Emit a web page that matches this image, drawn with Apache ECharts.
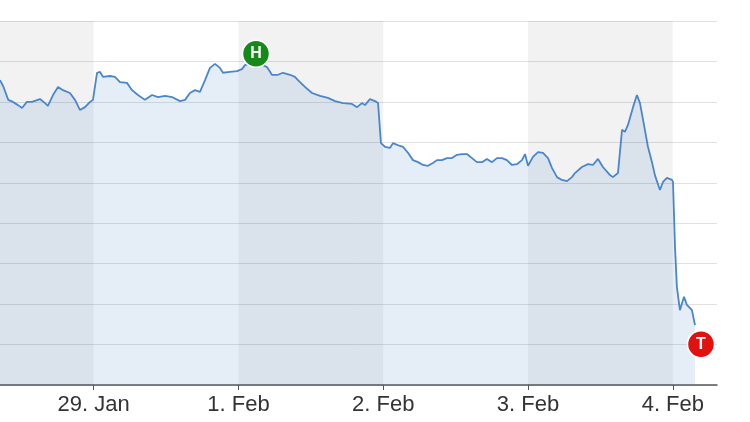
<!DOCTYPE html>
<html><head><meta charset="utf-8">
<script src="https://cdn.jsdelivr.net/npm/echarts@6/dist/echarts.min.js"></script>
<style>html,body{margin:0;padding:0;background:#fff}#c{width:750px;height:422px}</style>
</head><body><div id="c"></div>
<script>
// time in trading days (29. Jan = 1, 1. Feb = 2, ...), price in chart units
const times = [0.353,0.376,0.410,0.443,0.477,0.505,0.539,0.574,0.629,0.664,0.684,0.719,0.754,0.788,0.836,0.871,0.905,0.940,0.975,0.995,
1.023,1.044,1.064,1.113,1.147,1.182,1.230,1.265,1.306,1.354,1.403,1.444,1.493,1.541,1.596,1.631,1.665,1.700,1.734,1.769,1.803,1.838,1.872,1.893,1.941,1.990,
2.024,2.045,2.121,2.197,2.231,2.273,2.307,2.356,2.390,2.411,2.459,2.508,2.563,2.618,2.667,2.722,2.784,2.819,2.853,2.874,2.908,2.943,2.964,2.984,
3.012,3.046,3.067,3.115,3.136,3.171,3.205,3.240,3.274,3.309,3.343,3.371,3.405,3.440,3.475,3.509,3.544,3.578,3.613,3.647,3.682,3.716,3.751,3.785,3.820,3.854,3.889,3.923,3.958,3.979,
4.000,4.034,4.069,4.103,4.138,4.165,4.200,4.234,4.269,4.303,4.324,4.372,4.414,4.448,4.483,4.517,4.566,4.586,4.621,4.649,4.669,4.690,4.725,4.752,4.773,4.807,4.828,4.856,4.876,4.911,4.932,4.959,4.994,
5.001,5.015,5.028,5.049,5.077,5.097,5.132,5.153];
const prices = [7.54,7.38,7.05,7.00,6.92,6.85,7.00,7.00,7.07,6.97,6.90,7.17,7.37,7.29,7.22,7.05,6.80,6.87,7.00,7.05,
7.72,7.74,7.62,7.64,7.62,7.49,7.47,7.29,7.17,7.05,7.17,7.12,7.15,7.12,7.02,7.05,7.22,7.29,7.25,7.54,7.84,7.94,7.84,7.72,7.74,7.76,
7.81,7.91,7.99,7.86,7.67,7.67,7.72,7.67,7.62,7.54,7.37,7.22,7.15,7.10,7.02,6.97,6.95,6.87,6.97,6.92,7.07,7.02,6.97,5.98,
5.89,5.86,5.98,5.91,5.89,5.74,5.56,5.51,5.44,5.42,5.49,5.56,5.56,5.61,5.61,5.69,5.71,5.71,5.61,5.51,5.51,5.59,5.51,5.61,5.61,5.56,5.44,5.46,5.56,5.71,
5.42,5.64,5.76,5.74,5.61,5.37,5.14,5.07,5.04,5.14,5.24,5.39,5.46,5.44,5.59,5.39,5.19,5.14,5.24,6.31,6.26,6.43,6.87,7.17,6.97,6.31,5.89,5.51,5.19,4.82,5.02,5.12,5.07,
5.02,3.41,2.42,1.85,2.18,1.98,1.85,1.48];
const tickDays = [1, 2, 3, 4, 5];
const tickLabels = ['29. Jan', '1. Feb', '2. Feb', '3. Feb', '4. Feb'];
const shadedDays = [[0.353, 1], [2, 3], [4, 5]];
const axisMin = 0.353, axisMax = 5.305;

const series = times.map((t, i) => [t, prices[i]]);
let hi = 0, lo = 0;
prices.forEach((p, i) => { if (p > prices[hi]) hi = i; if (p < prices[lo]) lo = i; });

const chart = echarts.init(document.getElementById('c'), null, {renderer: 'canvas'});
chart.setOption({
  animation: false,
  grid: {left: 0, right: 33, top: 21, bottom: 37},
  xAxis: {
    type: 'value', min: axisMin, max: axisMax,
    axisLine: {show: true, lineStyle: {color: '#555', width: 1.5}},
    axisTick: {show: true, customValues: tickDays, length: 5, lineStyle: {color: '#555'}},
    axisLabel: {
      customValues: tickDays, margin: 9, color: '#333', fontSize: 22,
      fontFamily: 'Liberation Sans, Arial, sans-serif',
      formatter: v => tickLabels[tickDays.indexOf(Math.round(v))] || ''
    },
    splitLine: {show: false}
  },
  yAxis: {
    type: 'value', min: 0, max: 9, interval: 1,
    axisLabel: {show: false}, axisLine: {show: false}, axisTick: {show: false},
    splitLine: {show: true, lineStyle: {color: '#e0e0e0', width: 1}}
  },
  series: [
    {
      type: 'line', data: [], z: 1, silent: true,
      markArea: {
        silent: true,
        itemStyle: {color: 'rgba(0,0,0,0.05)'},
        data: shadedDays.map(r => [{xAxis: r[0]}, {xAxis: r[1]}])
      }
    },
    {
      type: 'line', data: series, z: 3, showSymbol: false, smooth: false,
      lineStyle: {color: '#4a86cc', width: 1.8},
      areaStyle: {color: 'rgba(74,134,200,0.2)'},
      markPoint: {
        z: 5,
        data: [
          {coord: series[hi], symbol: 'circle', symbolSize: 27, symbolOffset: [0, -8],
           itemStyle: {color: '#15891a', borderColor: '#fff', borderWidth: 1.5},
           label: {show: true, formatter: 'H', color: '#fff', fontWeight: 'bold', fontSize: 16, fontFamily: 'Liberation Sans, Arial, sans-serif'}},
          {coord: series[lo], symbol: 'circle', symbolSize: 27, symbolOffset: [6, 19],
           itemStyle: {color: '#e0110f', borderColor: '#fff', borderWidth: 1.5},
           label: {show: true, formatter: 'T', color: '#fff', fontWeight: 'bold', fontSize: 16, fontFamily: 'Liberation Sans, Arial, sans-serif'}}
        ]
      }
    }
  ]
});
</script></body></html>
